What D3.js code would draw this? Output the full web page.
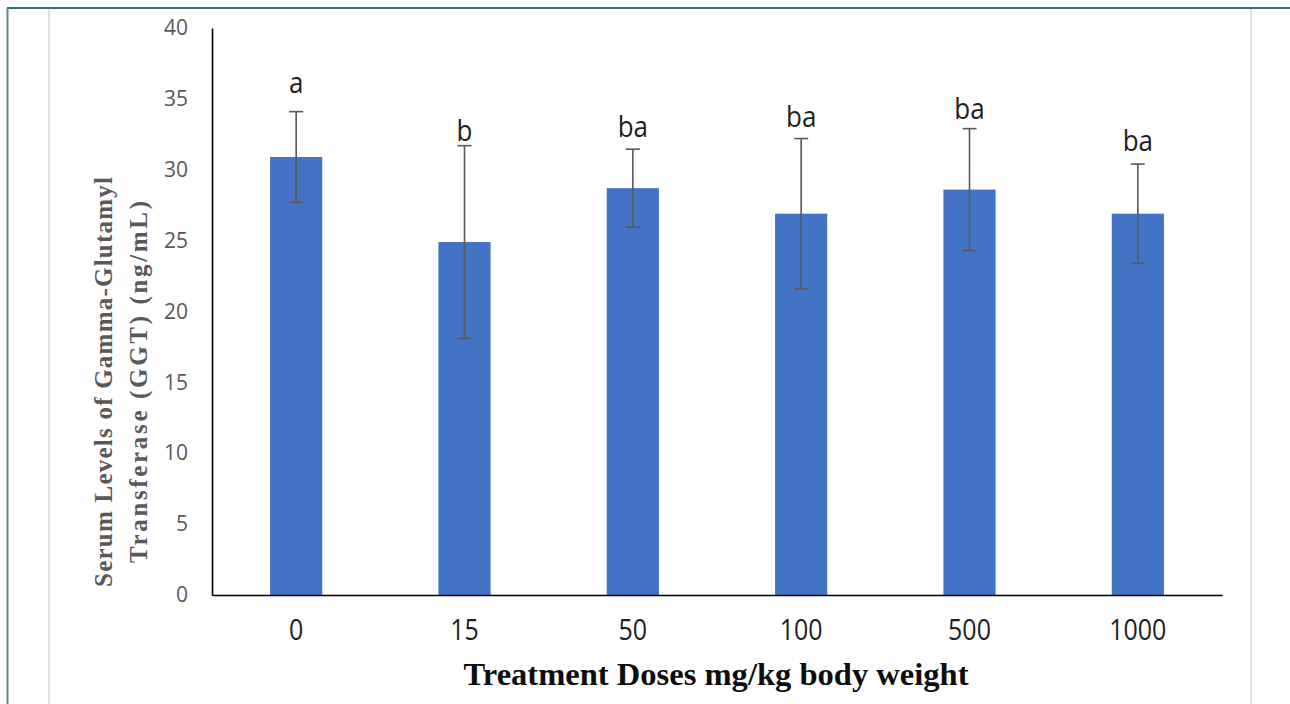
<!DOCTYPE html>
<html>
<head>
<meta charset="utf-8">
<script src="https://cdn.jsdelivr.net/npm/d3@7/dist/d3.min.js"></script>
<style>
  html, body { margin: 0; padding: 0; background: #ffffff; }
  svg { display: block; }
</style>
</head>
<body>
<svg id="chart" width="1290" height="704"></svg>
<script>
// Serum GGT by treatment dose: group means, standard deviations and significance letters
const doses = ["0", "15", "50", "100", "500", "1000"];
const meanGGT = [30.9, 24.9, 28.7, 26.9, 28.6, 26.9];
const sdGGT = [3.2, 6.8, 2.75, 5.3, 4.3, 3.5];
const groupLetters = ["a", "b", "ba", "ba", "ba", "ba"];
// value (ng/mL) at which each significance letter sits
const letterLevel = [35.4, 32.0, 32.3, 33.0, 33.6, 31.3];
const yTicks = [0, 5, 10, 15, 20, 25, 30, 35, 40];

const svg = d3.select("#chart");

// page frame
svg.append("line").attr("x1", 7).attr("x2", 1290).attr("y1", 8).attr("y2", 8)
  .attr("stroke", "#2f6e74").attr("stroke-width", 2);
svg.append("line").attr("x1", 7.5).attr("x2", 7.5).attr("y1", 8).attr("y2", 704)
  .attr("stroke", "#5a8d92").attr("stroke-width", 2);
[49, 1251].forEach(xv => {
  svg.append("line").attr("x1", xv).attr("x2", xv).attr("y1", 9).attr("y2", 704)
    .attr("stroke", "#e1e1e1").attr("stroke-width", 2);
});

const x = d3.scaleBand().domain(doses).range([212, 1222])
  .paddingInner(0.69).paddingOuter(0.345);
const y = d3.scaleLinear().domain([0, 40]).range([595, 28]);

// y axis
const yAxis = svg.append("g").attr("transform", "translate(212,0)")
  .call(d3.axisLeft(y).tickValues(yTicks).tickSizeInner(0).tickSizeOuter(0).tickPadding(24));
yAxis.select(".domain").attr("stroke", "#000").attr("stroke-width", 1.6);
yAxis.selectAll("text").attr("font-family", "'Open Sans', sans-serif")
  .attr("font-size", 21).attr("fill", "#595959");

// bars
svg.append("g").selectAll("rect").data(doses).join("rect")
  .attr("x", d => x(d))
  .attr("width", x.bandwidth())
  .attr("y", (d, i) => y(meanGGT[i]))
  .attr("height", (d, i) => y(0) - y(meanGGT[i]))
  .attr("fill", "#4472c4");

// x axis
const xAxis = svg.append("g").attr("transform", "translate(0,595)")
  .call(d3.axisBottom(x).tickSizeInner(0).tickSizeOuter(0).tickPadding(22));
xAxis.select(".domain").attr("stroke", "#000").attr("stroke-width", 1.6);
xAxis.selectAll("text")
  .attr("y", null).attr("dy", null)
  .attr("transform", "translate(0,45) scale(1,1.16)")
  .attr("font-family", "'Open Sans', sans-serif")
  .attr("font-size", 25).attr("fill", "#1e1e1e");

// error bars
const err = svg.append("g").attr("stroke", "#595959").attr("stroke-width", 1.6).attr("fill", "none");
doses.forEach((d, i) => {
  const cx = x(d) + x.bandwidth() / 2;
  const hi = y(meanGGT[i] + sdGGT[i]);
  const lo = y(meanGGT[i] - sdGGT[i]);
  err.append("line").attr("x1", cx).attr("x2", cx).attr("y1", hi).attr("y2", lo);
  err.append("line").attr("x1", cx - 7).attr("x2", cx + 7).attr("y1", hi).attr("y2", hi);
  err.append("line").attr("x1", cx - 7).attr("x2", cx + 7).attr("y1", lo).attr("y2", lo);
});

// significance letters
svg.append("g").selectAll("text").data(doses).join("text")
  .attr("transform", (d, i) => `translate(${x(d) + x.bandwidth() / 2},${y(letterLevel[i])}) scale(1,1.1)`)
  .attr("text-anchor", "middle")
  .attr("font-family", "'Open Sans', sans-serif")
  .attr("font-size", 26)
  .attr("fill", "#1e1e1e")
  .text((d, i) => groupLetters[i]);

// y axis title (two lines)
const yTitle = svg.append("g").attr("transform", "translate(0,382) rotate(-90)")
  .attr("font-family", "'Liberation Serif', 'Times New Roman', serif")
  .attr("font-weight", "bold").attr("font-size", 25).attr("fill", "#595959")
  .attr("text-anchor", "middle");
yTitle.append("text").attr("x", 0).attr("y", 112)
  .attr("textLength", 410).attr("lengthAdjust", "spacing")
  .text("Serum Levels  of Gamma-Glutamyl");
yTitle.append("text").attr("x", 0).attr("y", 147)
  .attr("textLength", 362).attr("lengthAdjust", "spacing")
  .text("Transferase   (GGT)   (ng/mL)");

// x axis title
svg.append("text").attr("x", 716).attr("y", 685)
  .attr("text-anchor", "middle")
  .attr("font-family", "'Liberation Serif', 'Times New Roman', serif")
  .attr("font-weight", "bold").attr("font-size", 31).attr("fill", "#0d0d0d")
  .attr("textLength", 505).attr("lengthAdjust", "spacingAndGlyphs")
  .text("Treatment Doses mg/kg body weight");
</script>
</body>
</html>
